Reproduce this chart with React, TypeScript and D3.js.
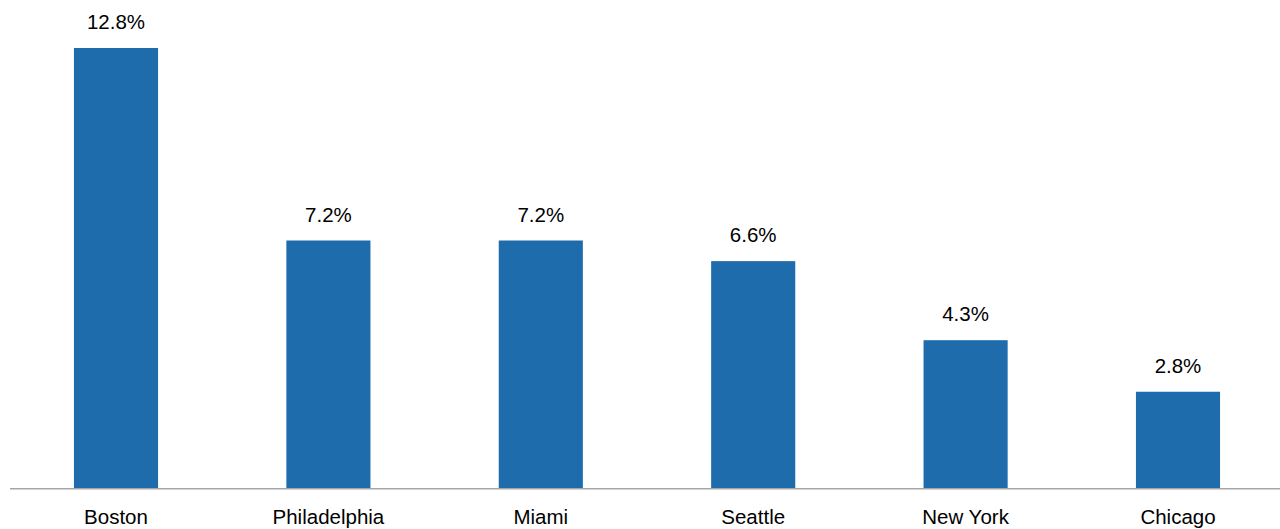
import React from "react";
import * as d3 from "d3";

const categories = ["Boston", "Philadelphia", "Miami", "Seattle", "New York", "Chicago"];
const values = [12.8, 7.2, 7.2, 6.6, 4.3, 2.8];
const valueLabels = ["12.8%", "7.2%", "7.2%", "6.6%", "4.3%", "2.8%"];

export default function App() {
  const width = 1280;
  const height = 529;
  const baseline = 488;
  const x = d3.scaleBand<string>().domain(categories).range([9.8, 1284.2]).paddingInner(0.604).paddingOuter(0.302);
  const y = d3.scaleLinear().domain([0, 12.8]).range([baseline, 48]);
  const font = "Arial, 'Liberation Sans', sans-serif";
  return (
    <svg width={width} height={height} style={{ position: "absolute", left: 0, top: 0 }}>
      {categories.map((c, i) => (
        <g key={c}>
          <rect x={x(c)} y={y(values[i])} width={x.bandwidth()} height={baseline - y(values[i])} fill="#1F6CAD" />
          <text x={(x(c) as number) + x.bandwidth() / 2} y={y(values[i]) - 19} textAnchor="middle" fontFamily={font} fontSize={20.5} fill="#000">
            {valueLabels[i]}
          </text>
          <text x={(x(c) as number) + x.bandwidth() / 2} y={524} textAnchor="middle" fontFamily={font} fontSize={20.5} fill="#000">
            {c}
          </text>
        </g>
      ))}
      <line x1={10} x2={1280} y1={488.75} y2={488.75} stroke="#A6A6A6" strokeWidth={1.5} />
    </svg>
  );
}
